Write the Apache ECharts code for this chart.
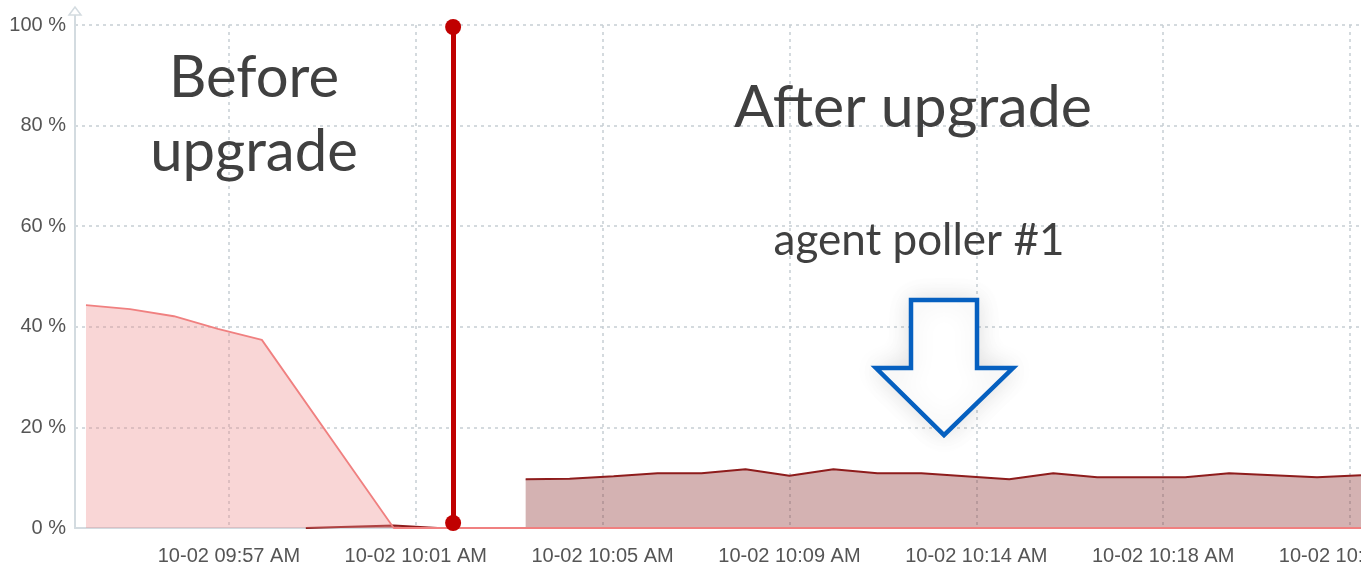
<!DOCTYPE html>
<html><head><meta charset="utf-8">
<script src="https://cdn.jsdelivr.net/npm/echarts@6/dist/echarts.min.js"></script>
<style>html,body{margin:0;padding:0;background:#fff}#c{width:1361px;height:565px}</style>
</head><body><div id="c"></div>
<script>
// x values are minutes (sample clock), labels are the original tick texts
const tickValues = [7.25, 11.5, 15.75, 20, 24.25, 28.5, 32.75];
const tickLabels = ['10-02 09:57 AM', '10-02 10:01 AM', '10-02 10:05 AM', '10-02 10:09 AM', '10-02 10:14 AM', '10-02 10:18 AM', '10-02 10:22 AM'];
const xMin = 3.75, xMax = 33;

// pink series (before upgrade)
const beforeTimes = [4, 5, 6, 7, 8, 11, 12, 13, 14, 15, 16, 17, 18, 19, 20, 21, 22, 23, 24, 25, 26, 27, 28, 29, 30, 31, 32, 33];
const beforeValues = [44.3, 43.5, 42.1, 39.6, 37.4, 0, 0, 0, 0, 0, 0, 0, 0, 0, 0, 0, 0, 0, 0, 0, 0, 0, 0, 0, 0, 0, 0, 0];

// dark red series (agent poller #1)
const pollerTimes = [9, 10, 11, 12, 13, 14, 15, 16, 17, 18, 19, 20, 21, 22, 23, 24, 25, 26, 27, 28, 29, 30, 31, 32, 33];
const pollerValues = [0, 0.25, 0.5, 0, null, 9.7, 9.8, 10.3, 10.9, 10.9, 11.7, 10.4, 11.7, 10.9, 10.9, 10.3, 9.7, 10.9, 10.1, 10.1, 10.1, 10.9, 10.5, 10.1, 10.5];

const upgradeAt = 12.35;
const upgradeRange = [99.6, 1.0];

const zip = (t, v) => t.map((x, i) => [x, v[i]]);

const chart = echarts.init(document.getElementById('c'), null, {renderer: 'canvas'});
const titleFont = 'Lato, "Open Sans", sans-serif';
const axisFont = '"Liberation Sans", Arial, sans-serif';
chart.setOption({
  animation: false,
  backgroundColor: '#fff',
  grid: {left: 75, right: 0, top: 25, bottom: 37, containLabel: false, outerBoundsMode: 'none'},
  xAxis: {
    type: 'value', min: xMin, max: xMax,
    axisLine: {show: true, lineStyle: {color: '#d3dbe0', width: 2}},
    axisTick: {show: false, customValues: tickValues},
    axisLabel: {
      customValues: tickValues, margin: 18, color: '#555', fontSize: 20, fontFamily: axisFont,
      hideOverlap: false,
      formatter: v => { const i = tickValues.indexOf(v); return i >= 0 ? tickLabels[i] : ''; }
    },
    splitLine: {show: true, lineStyle: {color: '#c6ced4', width: 1.5, type: [3, 4]}}
  },
  yAxis: {
    type: 'value', min: 0, max: 100, interval: 20,
    axisLine: {show: true, lineStyle: {color: '#d3dbe0', width: 2}},
    axisTick: {show: false},
    axisLabel: {margin: 9, color: '#555', fontSize: 20, fontFamily: axisFont, formatter: '{value} %'},
    splitLine: {show: true, lineStyle: {color: '#c6ced4', width: 1.5, type: [3, 4]}}
  },
  series: [
    {
      name: 'agent poller #1', type: 'line', data: zip(pollerTimes, pollerValues),
      showSymbol: false, connectNulls: false,
      lineStyle: {color: '#8e1c1c', width: 2},
      areaStyle: {color: '#842323', opacity: 0.35},
      z: 2
    },
    {
      name: 'before', type: 'line', data: zip(beforeTimes, beforeValues),
      showSymbol: false,
      lineStyle: {color: '#f08080', width: 1.8},
      areaStyle: {color: '#ee8a8a', opacity: 0.35},
      z: 3,
      markLine: {
        silent: true, symbol: ['circle', 'circle'], symbolSize: 16,
        label: {show: false},
        lineStyle: {color: '#c00000', width: 5, type: 'solid'},
        data: [[{coord: [upgradeAt, upgradeRange[0]]}, {coord: [upgradeAt, upgradeRange[1]]}]]
      }
    }
  ],
  graphic: [
    {type: 'line', shape: {x1: 75, y1: 25, x2: 75, y2: 15}, style: {stroke: '#d3dbe0', lineWidth: 2}, z: 10},
    {type: 'polygon', shape: {points: [[69, 15], [75, 7], [81, 15]]}, style: {stroke: '#d3dbe0', lineWidth: 1.5, fill: '#fff'}, z: 10},
    {type: 'text', style: {text: 'Before', x: 254, y: 78, font: '58px ' + titleFont, fill: '#404040', textAlign: 'center', textVerticalAlign: 'middle'}, z: 10},
    {type: 'text', style: {text: 'upgrade', x: 254, y: 152, font: '58px ' + titleFont, fill: '#404040', textAlign: 'center', textVerticalAlign: 'middle'}, z: 10},
    {type: 'text', style: {text: 'After upgrade', x: 913, y: 108, font: '59px ' + titleFont, fill: '#404040', textAlign: 'center', textVerticalAlign: 'middle'}, z: 10},
    {type: 'text', style: {text: 'agent poller #1', x: 919, y: 241, font: '44px ' + titleFont, fill: '#404040', textAlign: 'center', textVerticalAlign: 'middle'}, z: 10},
    {type: 'polygon', shape: {points: [[911, 300], [977, 300], [977, 368], [1013, 368], [944, 435], [876, 368], [911, 368]]},
     style: {stroke: '#0660c0', lineWidth: 4.5, fill: '#fff', lineJoin: 'miter', shadowBlur: 25, shadowColor: 'rgba(0,0,0,0.12)'}, z: 10}
  ]
});
</script></body></html>
